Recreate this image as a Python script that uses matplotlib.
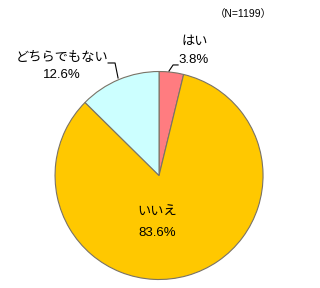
import matplotlib
matplotlib.use("Agg")
import matplotlib.pyplot as plt

plt.rcParams['font.family'] = ['Liberation Sans', 'Noto Sans CJK JP', 'DejaVu Sans']

# data
labels = ['はい', 'いいえ', 'どちらでもない']
values = [3.8, 83.6, 12.6]
colors = ['#FF7C80', '#FFC800', '#CCFFFF']
n_text = '（N=1199）'

fig = plt.figure(figsize=(3.2, 2.88), dpi=100)
ax = fig.add_axes([0.172, 0.0295, 0.65, 0.7222])

ax.pie(values, colors=colors, startangle=90, counterclock=False,
       wedgeprops=dict(edgecolor='#7a7366', linewidth=0.8))
ax.set_xlim(-1, 1)
ax.set_ylim(-1, 1)
ax.set_aspect('equal')

fs = 9.5
# はい
ax.text(0.346, 1.284, labels[0], ha='center', va='center', fontsize=fs, clip_on=False)
ax.text(0.33, 1.111, '%.1f%%' % values[0], ha='center', va='center', fontsize=fs, clip_on=False)
ax.plot([0.096, 0.135, 0.183], [1.005, 1.063, 1.063], color='black', lw=0.8, clip_on=False)

# どちらでもない
ax.text(-0.933, 1.13, labels[2], ha='center', va='center', fontsize=fs, clip_on=False)
ax.text(-0.933, 0.966, '%.1f%%' % values[2], ha='center', va='center', fontsize=fs, clip_on=False)
ax.plot([-0.394, -0.423, -0.49], [0.9375, 1.082, 1.082], color='black', lw=0.8, clip_on=False)

# いいえ
ax.text(-0.019, -0.351, labels[1], ha='center', va='center', fontsize=fs)
ax.text(-0.019, -0.553, '%.1f%%' % values[1], ha='center', va='center', fontsize=fs)

fig.text(0.76, 0.951, n_text, ha='center', va='center', fontsize=7.5)

fig.savefig('out.png', dpi=100)
